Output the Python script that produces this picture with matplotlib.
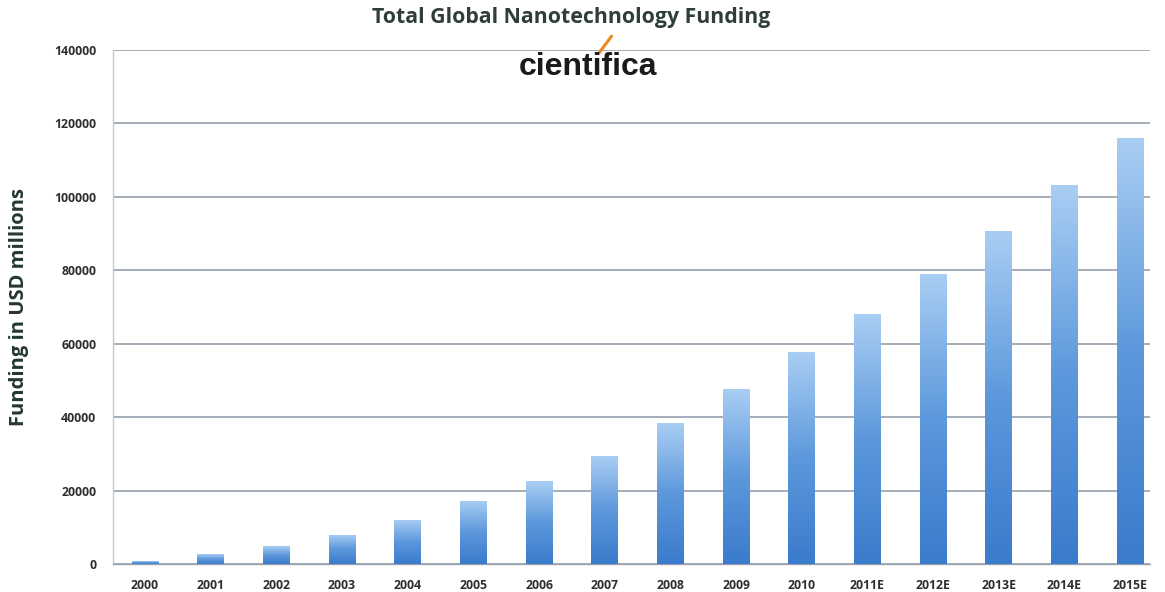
import numpy as np
import matplotlib
matplotlib.use("Agg")
import matplotlib.pyplot as plt
from matplotlib.colors import LinearSegmentedColormap
from matplotlib.patches import Rectangle

years = ["2000", "2001", "2002", "2003", "2004", "2005", "2006", "2007",
         "2008", "2009", "2010", "2011E", "2012E", "2013E", "2014E", "2015E"]
funding = [700, 2700, 4900, 7900, 12000, 17200, 22600, 29400,
           38400, 47700, 57700, 68000, 79000, 90800, 103100, 116000]
y_ticks = [0, 20000, 40000, 60000, 80000, 100000, 120000, 140000]

plt.rcParams['font.family'] = ['Open Sans', 'DejaVu Sans']

fig = plt.figure(figsize=(11.65, 5.92), dpi=100)
ax = fig.add_axes([0.097, 0.0473, 0.890, 0.8682])

x = np.arange(len(years))
width = 0.41
bars = ax.bar(x, funding, width=width, color='none', edgecolor='none', zorder=3)

# vertical blue gradient inside each bar: light at the top, deeper at the base
cmap = LinearSegmentedColormap.from_list("bluegrad", ["#3a7bcb", "#5d98dc", "#a9cef3"])
grad = np.linspace(0, 1, 256).reshape(-1, 1)
for b in bars:
    x0, w, h = b.get_x(), b.get_width(), b.get_height()
    im = ax.imshow(grad, cmap=cmap, aspect='auto', origin='lower',
                   extent=(x0, x0 + w, 0, h), zorder=3, interpolation='bilinear')
    clip = Rectangle((x0, 0), w, h, transform=ax.transData)
    im.set_clip_path(clip)

ax.set_xlim(-0.487, 15.3)
ax.set_ylim(0, 140000)
ax.set_yticks(y_ticks)
ax.set_yticklabels([str(v) for v in y_ticks])
ax.set_xticks(x)
ax.set_xticklabels(years)

for lab in ax.get_xticklabels() + ax.get_yticklabels():
    lab.set_fontweight('bold')
    lab.set_fontsize(8.8)
    lab.set_color('#2e2e2e')
ax.tick_params(axis='both', length=0)
ax.tick_params(axis='x', pad=11)
ax.tick_params(axis='y', pad=12)

ax.grid(axis='y', color='#8c97a6', linewidth=1.1, zorder=1)
ax.set_axisbelow(True)
for side in ['top', 'right']:
    ax.spines[side].set_visible(False)
ax.spines['left'].set_color('#c4c8cc')
ax.spines['left'].set_linewidth(1.0)
ax.spines['bottom'].set_color('#9aa3ad')
ax.spines['bottom'].set_linewidth(1.0)

ax.set_ylabel("Funding in USD millions", fontsize=14.5, fontweight='bold',
              color='#24382e', labelpad=18)

fig.text(0.4905, 0.971, "Total Global Nanotechnology Funding", ha='center', va='center',
         fontsize=15.3, fontweight='bold', color='#2f3f38')

# company wordmark beneath the title
fig.text(0.505, 0.887, "cientifica", ha='center', va='center',
         fontsize=23, fontweight='heavy', color='#1a1a1a',
         family=['Liberation Sans', 'DejaVu Sans'])
fig.add_artist(plt.Line2D([0.514, 0.525], [0.910, 0.939], transform=fig.transFigure,
                          color='#e8891e', linewidth=2.2, solid_capstyle='round'))

fig.savefig("out.png", dpi=100, facecolor='white')
